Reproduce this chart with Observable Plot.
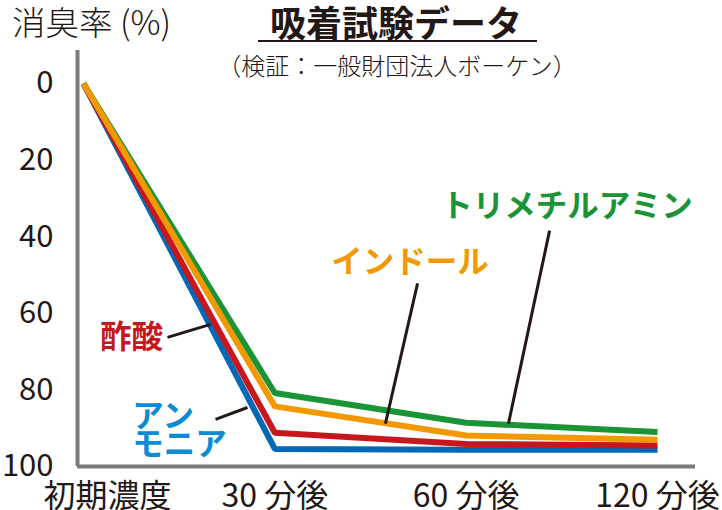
<!DOCTYPE html>
<html><head><meta charset="utf-8">
<script src="https://cdn.jsdelivr.net/npm/d3@7"></script>
<script src="https://cdn.jsdelivr.net/npm/@observablehq/plot@0.6"></script>
<style>
body{margin:0;background:#fff;font-family:"Noto Sans CJK JP",sans-serif;}
#wrap{position:relative;width:722px;height:510px;overflow:hidden;}
.t{position:absolute;white-space:nowrap;color:#231815;line-height:1;}
#chart{position:absolute;left:0;top:0;}
</style></head><body>
<div id="wrap">
<div id="chart"></div>
<div class="t" style="left:12px;top:4px;font-size:33.5px;font-weight:300;">消臭率 (%)</div>
<div class="t" style="left:196px;width:400px;text-align:center;top:3px;font-size:36px;font-weight:bold;">吸着試験データ</div>
<div style="position:absolute;left:258px;top:40px;width:279px;height:2px;background:#231815"></div>
<div class="t" style="left:197px;width:400px;text-align:center;top:53px;font-size:24px;font-weight:300;">（検証：一般財団法人ボーケン）</div>
</div>
<script>
const times = ["初期濃度", "30 分後", "60 分後", "120 分後"];
const seriesNames = ["アンモニア", "酢酸", "トリメチルアミン", "インドール"];
const ammonia = [0, 95.4, 95.6, 95.6];
const aceticAcid = [0, 91.2, 94.1, 94.5];
const trimethylamine = [0, 80.8, 88.6, 91.0];
const indole = [0, 84.3, 91.9, 93.0];
const yTicks = [0, 20, 40, 60, 80, 100];
const lineColors = ["#0068b7", "#c8161d", "#1b9436", "#f39800"];
const textColors = ["#0a8bd3", "#c8161d", "#1b9436", "#f39800"];
const labelText = ["アン\nモニア", "酢酸", "トリメチルアミン", "インドール"];
const labelX = [0.255, 0.251, 2.527, 1.706];
const labelY = [90.9, 66.6, 32.6, 47.0];
const labelAnchor = ["start", "middle", "middle", "middle"];
const leaderFrom = [[0.690, 87.7], [0.439, 66.3], [2.436, 38.4], [1.746, 52.2]];
const leaderTo = [[0.857, 84.6], [0.664, 62.9], [2.221, 88.8], [1.578, 88.8]];

const allSeries = [ammonia, aceticAcid, trimethylamine, indole];
const rows = [];
allSeries.forEach((vals, s) => vals.forEach((v, i) => rows.push({s, i, v})));
const labels = labelText.map((t, s) => ({t, x: labelX[s], y: labelY[s], s, a: labelAnchor[s]}));
const leaders = leaderFrom.map((f, s) => ({x1: f[0], y1: f[1], x2: leaderTo[s][0], y2: leaderTo[s][1]}));

const marks = [
  Plot.ruleY([100], {stroke: "#7a7a7a", strokeWidth: 4}),
  Plot.ruleX([0], {dx: -6, stroke: "#7a7a7a", strokeWidth: 4}),
  Plot.axisY(yTicks, {anchor: "left", tickSize: 0, tickPadding: 24, fontSize: 31, fill: "#231815"}),
  Plot.axisX([1, 2, 3], {anchor: "bottom", tickSize: 0, tickPadding: 18, fontSize: 32, fill: "#231815", tickFormat: i => times[i]}),
  Plot.axisX([0], {anchor: "bottom", tickSize: 0, tickPadding: 18, fontSize: 32, fill: "#231815", dx: 24, tickFormat: i => times[i]})
];
allSeries.forEach((vals, s) => {
  marks.push(Plot.line(rows.filter(d => d.s === s), {
    x: "i", y: "v", stroke: lineColors[s], strokeWidth: 6,
    strokeLinecap: "butt", strokeLinejoin: "miter"
  }));
});
marks.push(Plot.link(leaders, {x1: "x1", y1: "y1", x2: "x2", y2: "y2", stroke: "#231815", strokeWidth: 3}));
labels.forEach(l => {
  marks.push(Plot.text([l], {x: "x", y: "y", text: "t", fill: textColors[l.s], fontSize: 31.5, fontWeight: "bold", textAnchor: l.a, lineHeight: 0.9}));
});

const chart = Plot.plot({
  width: 722, height: 510,
  marginLeft: 77, marginRight: 27, marginTop: 50, marginBottom: 44,
  style: {fontFamily: "'Noto Sans CJK JP', sans-serif", background: "transparent", overflow: "visible"},
  x: {type: "linear", domain: [0, 3], range: [83, 657]},
  y: {type: "linear", domain: [0, 100], range: [83, 466]},
  marks
});
document.getElementById("chart").appendChild(chart);
</script>
</body></html>
